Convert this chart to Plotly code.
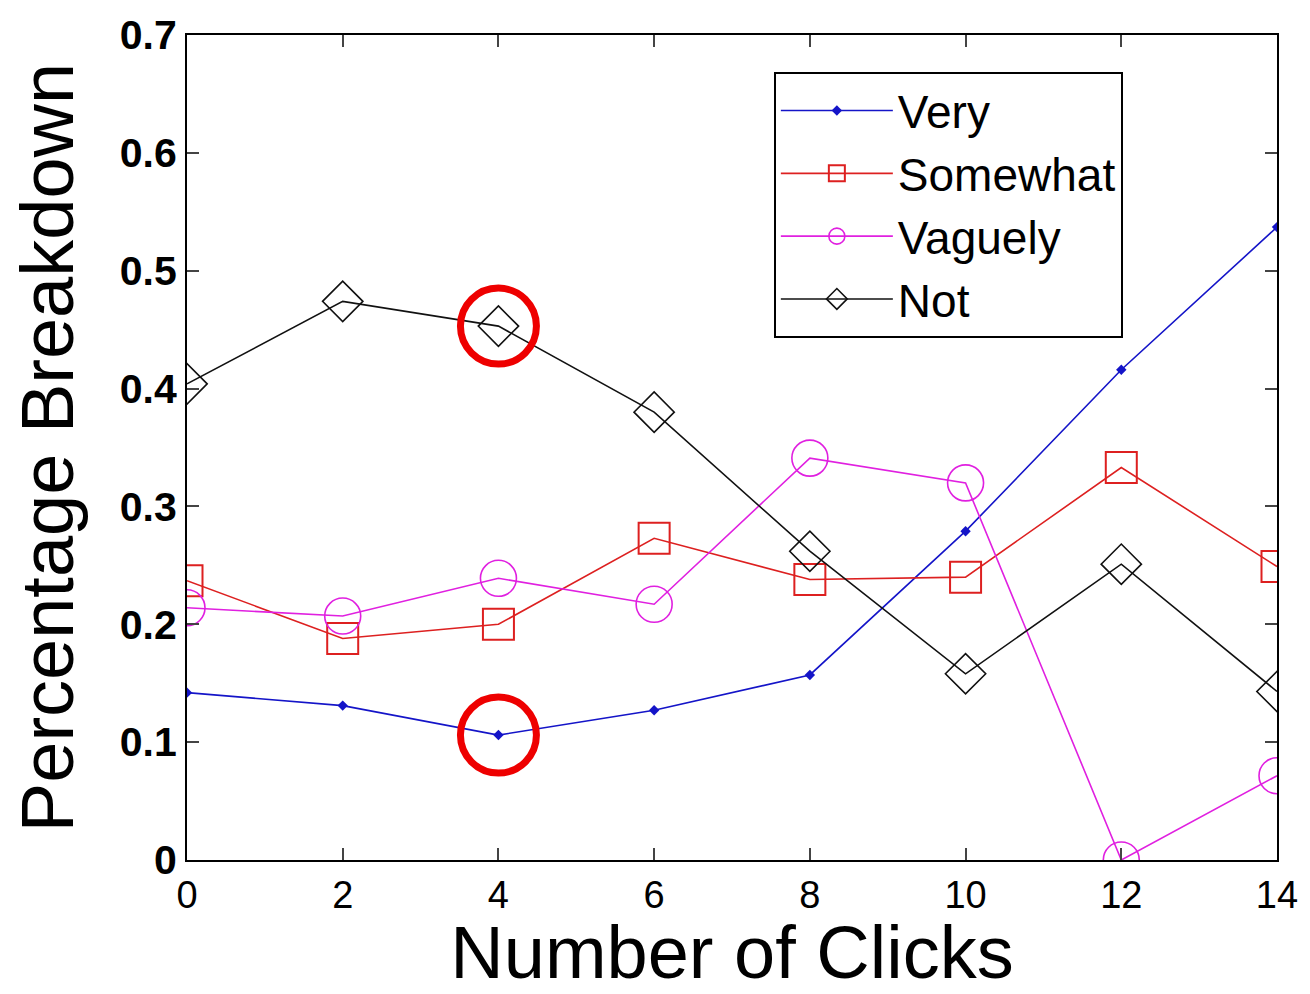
import plotly.graph_objects as go

clicks = [0, 2, 4, 6, 8, 10, 12, 14]
very = [0.142, 0.131, 0.106, 0.127, 0.157, 0.279, 0.416, 0.537]
somewhat = [0.237, 0.188, 0.200, 0.273, 0.238, 0.240, 0.333, 0.249]
vaguely = [0.214, 0.207, 0.239, 0.217, 0.341, 0.320, 0.0, 0.0715]
not_ = [0.404, 0.474, 0.453, 0.380, 0.262, 0.158, 0.251, 0.143]
y_ticks = [0, 0.1, 0.2, 0.3, 0.4, 0.5, 0.6, 0.7]
y_tick_labels = ["0", "0.1", "0.2", "0.3", "0.4", "0.5", "0.6", "0.7"]
highlight_index = 2

fig = go.Figure()
fig.add_trace(go.Scatter(x=clicks, y=very, name="Very", mode="lines+markers",
                         line=dict(color="#1414c8", width=1.6),
                         marker=dict(symbol="diamond", size=8, color="#1414c8")))
fig.add_trace(go.Scatter(x=clicks, y=somewhat, name="Somewhat", mode="lines+markers",
                         line=dict(color="#dd2020", width=1.6),
                         marker=dict(symbol="square-open", size=31, color="#dd2020", line=dict(width=2))))
fig.add_trace(go.Scatter(x=clicks, y=vaguely, name="Vaguely", mode="lines+markers",
                         line=dict(color="#e020e0", width=1.6),
                         marker=dict(symbol="circle-open", size=36, color="#e020e0", line=dict(width=1.6))))
fig.add_trace(go.Scatter(x=clicks, y=not_, name="Not", mode="lines+markers",
                         line=dict(color="#111111", width=1.6),
                         marker=dict(symbol="diamond-open", size=31, color="#111111", line=dict(width=1.6))))
fig.add_trace(go.Scatter(x=[clicks[highlight_index], clicks[highlight_index]],
                         y=[not_[highlight_index], very[highlight_index]],
                         mode="markers", showlegend=False, hoverinfo="skip",
                         marker=dict(symbol="circle-open", size=76, color="#ee0000",
                                     line=dict(width=7, color="#ee0000"))))

fig.update_layout(
    width=1310, height=994,
    margin=dict(l=187, r=27, t=28, b=134),
    paper_bgcolor="white", plot_bgcolor="white",
    font=dict(family="Liberation Sans, Arial, sans-serif", color="black"),
    legend=dict(x=0.5384, y=0.955, xanchor="left", yanchor="top",
                bordercolor="black", borderwidth=2, bgcolor="white",
                font=dict(size=46, family="Liberation Sans, Arial"),
                itemwidth=112, tracegroupgap=0),
    xaxis=dict(range=[0, 14], tickvals=clicks, ticks="inside", ticklen=12, tickwidth=2,
               showline=True, linewidth=2, linecolor="black", mirror="ticks",
               showgrid=False, zeroline=False,
               tickfont=dict(size=38, family="Liberation Sans Narrow, Liberation Sans, Arial"),
               title=dict(text="Number of Clicks", font=dict(size=74), standoff=9)),
    yaxis=dict(range=[0, 0.7], tickvals=y_ticks, ticktext=y_tick_labels,
               ticks="inside", ticklen=12, tickwidth=2,
               showline=True, linewidth=2, linecolor="black", mirror="ticks",
               showgrid=False, zeroline=False,
               tickfont=dict(size=41, family="Liberation Sans, Arial", weight="bold"),
               title=dict(text="Percentage Breakdown", font=dict(size=74), standoff=22)),
)

fig.write_html("out.html",
               config={"displayModeBar": False},
               post_script="document.body.style.margin='0';document.body.style.overflow='hidden';")
